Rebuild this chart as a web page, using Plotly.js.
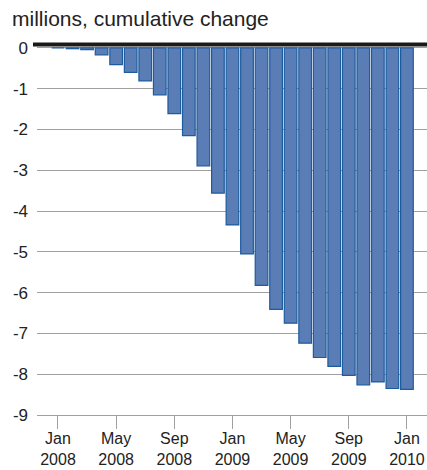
<!DOCTYPE html>
<html>
<head>
<meta charset="utf-8">
<script src="https://cdn.plot.ly/plotly-3.0.1.min.js"></script>
<style>html,body{margin:0;padding:0;background:#fff;}#chart{width:427px;height:470px;}</style>
</head>
<body>
<div id="chart"></div>
<script>
var months = ["Jan 2008","Feb 2008","Mar 2008","Apr 2008","May 2008","Jun 2008","Jul 2008","Aug 2008","Sep 2008","Oct 2008","Nov 2008","Dec 2008",
              "Jan 2009","Feb 2009","Mar 2009","Apr 2009","May 2009","Jun 2009","Jul 2009","Aug 2009","Sep 2009","Oct 2009","Nov 2009","Dec 2009",
              "Jan 2010"];
var cumulativeChange = [0, -0.02, -0.04, -0.17, -0.41, -0.60, -0.81, -1.15, -1.61, -2.15, -2.89, -3.56,
                        -4.34, -5.05, -5.82, -6.41, -6.75, -7.24, -7.59, -7.81, -8.03, -8.26, -8.19, -8.35,
                        -8.37];
var xTickVals = ["Jan 2008","May 2008","Sep 2008","Jan 2009","May 2009","Sep 2009","Jan 2010"];
var xTickText = ["Jan<br>2008","May<br>2008","Sep<br>2008","Jan<br>2009","May<br>2009","Sep<br>2009","Jan<br>2010"];
var yTickVals = [0,-1,-2,-3,-4,-5,-6,-7,-8,-9];
var yTickText = ["0","-1","-2","-3","-4","-5","-6","-7","-8","-9"];
var titleText = "millions, cumulative change";

var fontFamily = "'Liberation Sans', Arial, Helvetica, sans-serif";
var trace = {
  type: "bar",
  x: months,
  y: cumulativeChange,
  marker: {color: "#5b7db6", line: {color: "#1c5b9e", width: 1.2}},
  hoverinfo: "x+y"
};
var layout = {
  width: 427, height: 470,
  margin: {l: 37, r: 0, t: 43, b: 55, pad: 0},
  paper_bgcolor: "#fff", plot_bgcolor: "#fff",
  showlegend: false,
  bargap: 0.13,
  font: {family: fontFamily, size: 17, color: "#222"},
  xaxis: {
    type: "category",
    range: [-1.444, 25.38],
    tickmode: "array", tickvals: xTickVals, ticktext: xTickText,
    ticks: "outside", ticklen: 13, tickcolor: "#a0a0a0", tickwidth: 1,
    ticklabelstandoff: -4,
    showgrid: false, zeroline: false,
    showline: true, linecolor: "#a0a0a0", linewidth: 1,
    tickfont: {family: fontFamily, size: 16, color: "#222"}
  },
  yaxis: {
    range: [-9, 0.12],
    tickmode: "array", tickvals: yTickVals, ticktext: yTickText,
    showgrid: true, gridcolor: "#a0a0a0", gridwidth: 1,
    zeroline: false, showline: false,
    ticks: "", ticklabelstandoff: 8,
    tickfont: {family: fontFamily, size: 17, color: "#222"}
  },
  shapes: [{
    type: "rect", xref: "paper", yref: "paper",
    x0: -0.0103, x1: 1, y0: 0.9906, y1: 1.0013,
    fillcolor: "#1a1a1a", line: {width: 0}, layer: "above"
  }],
  annotations: [{
    text: titleText, showarrow: false,
    xref: "paper", yref: "paper", x: -27/390, y: (415-18)/372,
    xanchor: "left", yanchor: "middle",
    font: {family: fontFamily, size: 21, color: "#222"}
  }]
};
Plotly.newPlot("chart", [trace], layout, {displayModeBar: false, staticPlot: true});
</script>
</body>
</html>
